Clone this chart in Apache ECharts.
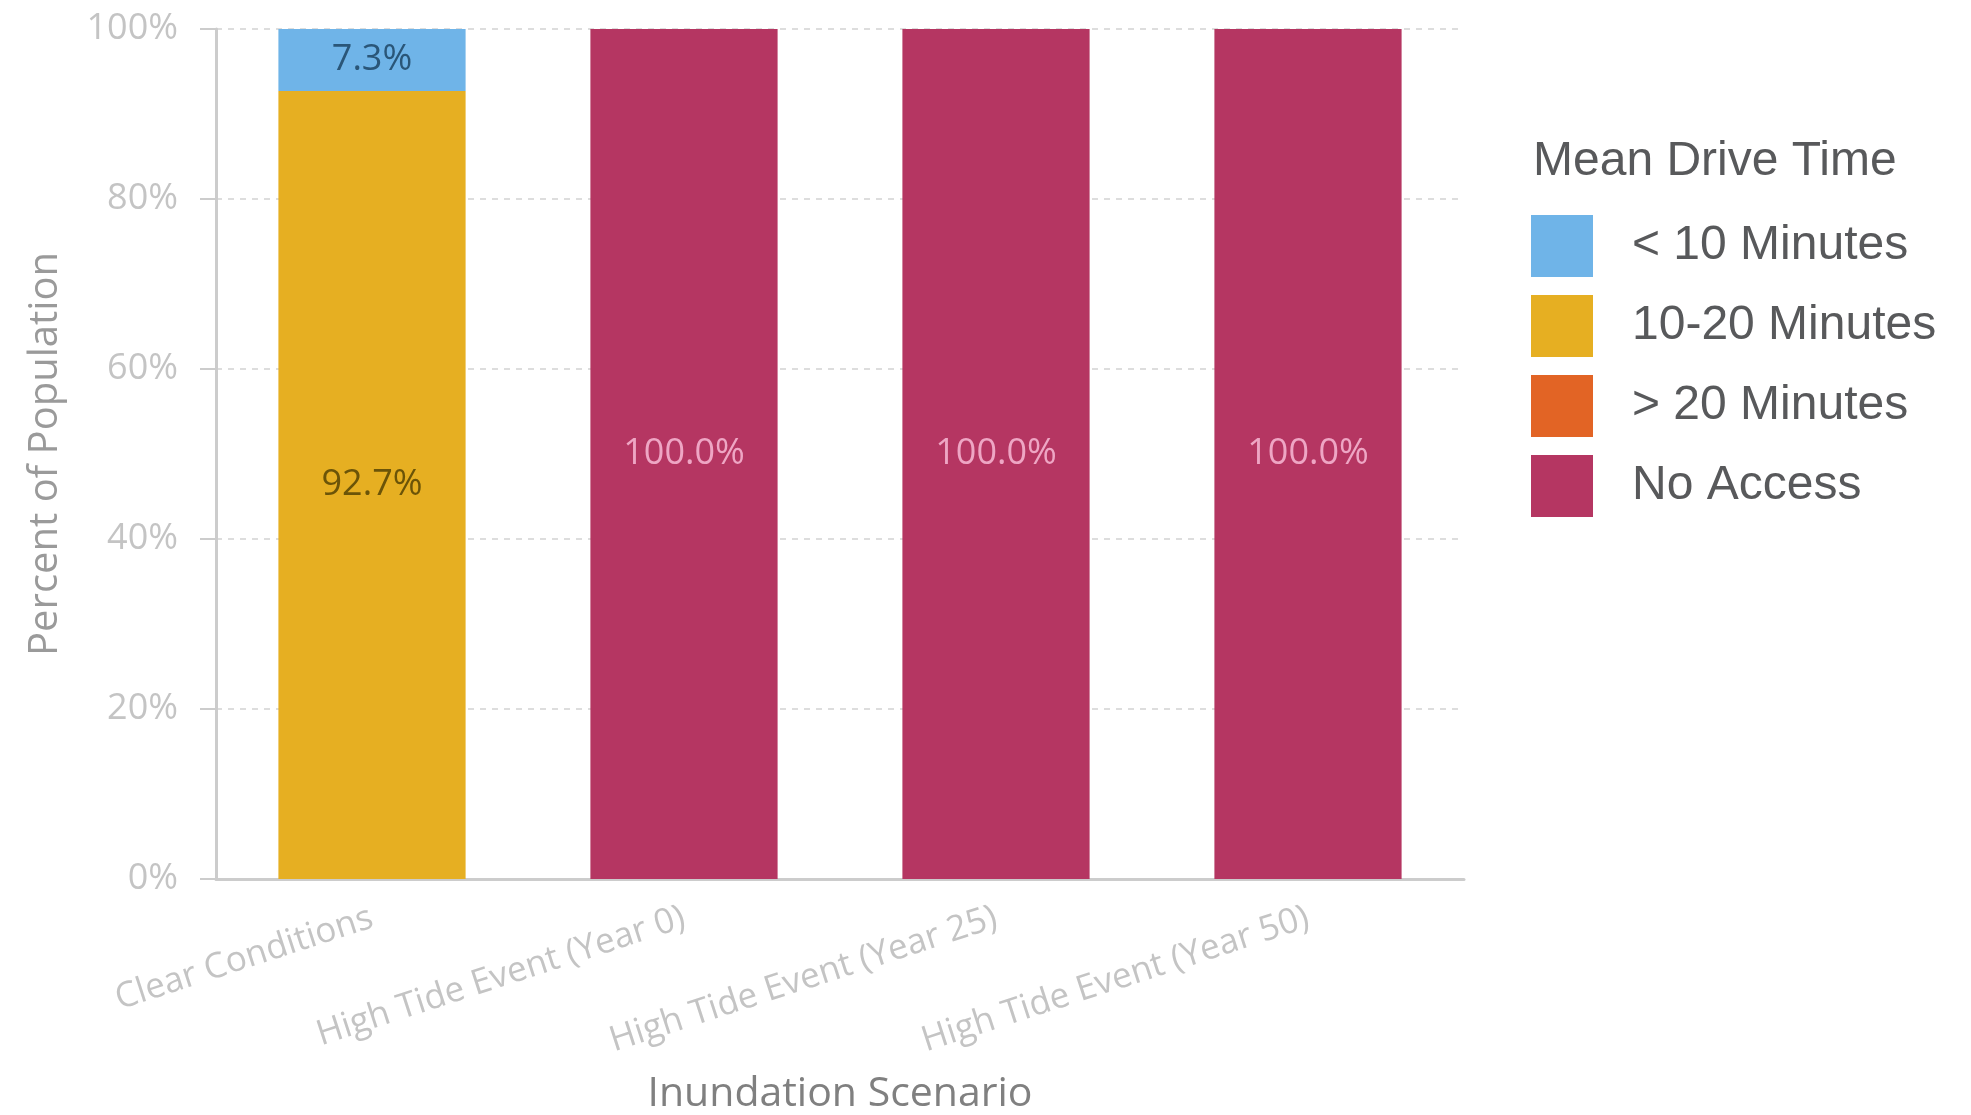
<!DOCTYPE html>
<html>
<head>
<meta charset="utf-8">
<script src="https://cdn.jsdelivr.net/npm/echarts@6/dist/echarts.min.js"></script>
<style>
html,body{margin:0;padding:0;background:#fff;}
#chart{width:1971px;height:1115px;}
</style>
</head>
<body>
<div id="chart"></div>
<script>
const categories = ['Clear Conditions', 'High Tide Event (Year 0)', 'High Tide Event (Year 25)', 'High Tide Event (Year 50)'];
const under10 = [7.3, 0, 0, 0];
const from10to20 = [92.7, 0, 0, 0];
const over20 = [0, 0, 0, 0];
const noAccess = [0, 100, 100, 100];
const yTicks = [0, 20, 40, 60, 80, 100];
const legendOrder = ['< 10 Minutes', '10-20 Minutes', '> 20 Minutes', 'No Access'];

const chart = echarts.init(document.getElementById('chart'), null, {renderer: 'canvas'});

function lbl(color) {
  return {
    show: true,
    position: 'inside',
    fontFamily: 'Open Sans',
    fontSize: 36,
    color: color,
    formatter: p => (p.value > 0 ? p.value.toFixed(1) + '%' : '')
  };
}

const option = {
  animation: false,
  backgroundColor: '#ffffff',
  grid: {left: 216, right: 507, top: 29, bottom: 236, containLabel: false, outerBoundsMode: 'none'},
  graphic: [{
    type: 'text',
    left: 1533,
    top: 138,
    style: {text: 'Mean Drive Time', fontFamily: 'Liberation Sans, Arial', fontSize: 48, fill: '#58595b'}
  }],
  legend: {
    data: legendOrder,
    orient: 'vertical',
    left: 1531,
    top: 215,
    padding: 0,
    itemWidth: 62,
    itemHeight: 62,
    itemGap: 18,
    icon: 'rect',
    textStyle: {fontFamily: 'Liberation Sans, Arial', fontSize: 48, color: '#58595b', padding: [0, 0, 0, 34]}
  },
  xAxis: {
    type: 'category',
    data: categories,
    name: 'Inundation Scenario',
    nameLocation: 'middle',
    nameGap: 195,
    nameTextStyle: {fontFamily: 'Open Sans', fontSize: 41, color: '#808080'},
    axisLine: {lineStyle: {color: '#cccccc', width: 3}},
    axisTick: {show: false},
    axisLabel: {rotate: 18, margin: 38, fontFamily: 'Open Sans', fontSize: 35, color: '#c4c4c4', interval: 0}
  },
  yAxis: {
    type: 'value',
    min: 0,
    max: 100,
    interval: 20,
    name: 'Percent of Population',
    nameLocation: 'middle',
    nameGap: 150,
    nameTextStyle: {fontFamily: 'Open Sans', fontSize: 40, color: '#9a9a9a'},
    axisLine: {show: true, lineStyle: {color: '#cccccc', width: 3}},
    axisTick: {show: true, length: 16, lineStyle: {color: '#cccccc', width: 2}},
    axisLabel: {
      margin: 38, fontFamily: 'Open Sans', fontSize: 36, color: '#c4c4c4',
      formatter: v => (yTicks.indexOf(v) >= 0 ? v + '%' : '')
    },
    splitLine: {show: true, lineStyle: {color: '#dddddd', width: 2, type: [6, 6]}}
  },
  series: [
    {name: '10-20 Minutes', type: 'bar', stack: 'a', data: from10to20, barWidth: '60%',
     itemStyle: {color: '#e6af22'}, label: lbl('#6b5408')},
    {name: '< 10 Minutes', type: 'bar', stack: 'a', data: under10, barWidth: '60%',
     itemStyle: {color: '#6fb4e8'}, label: lbl('#2a5678')},
    {name: '> 20 Minutes', type: 'bar', stack: 'a', data: over20, barWidth: '60%',
     itemStyle: {color: '#e26425'}, label: lbl('#6a2a0a')},
    {name: 'No Access', type: 'bar', stack: 'a', data: noAccess, barWidth: '60%',
     itemStyle: {color: '#b53662'}, label: lbl('#eea6c4')}
  ]
};
chart.setOption(option);
</script>
</body>
</html>
